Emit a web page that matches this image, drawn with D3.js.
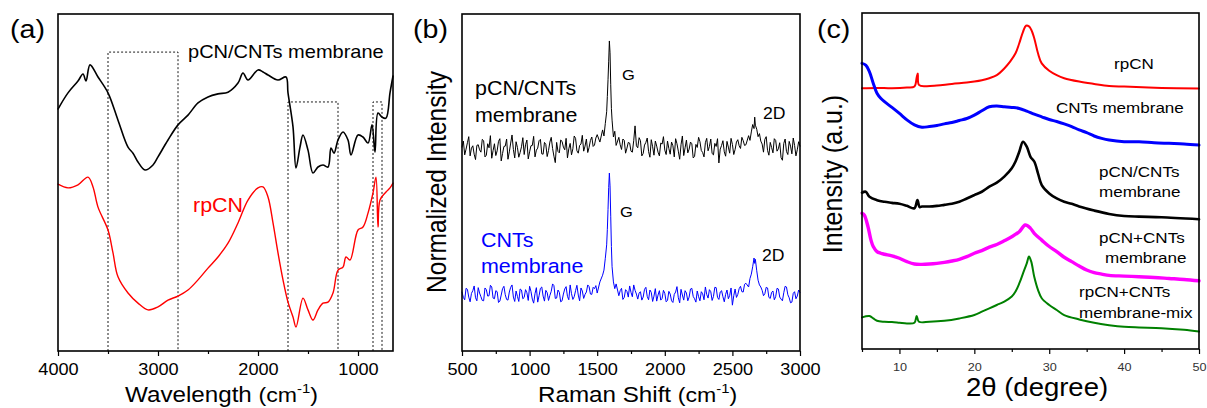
<!DOCTYPE html>
<html>
<head>
<meta charset="utf-8">
<script src="https://cdn.jsdelivr.net/npm/d3@7"></script>
<style>
  html, body { margin: 0; padding: 0; background: #fff; }
  svg { display: block; }
</style>
</head>
<body>
<svg id="fig" width="1207" height="408"></svg>
<script>
// ---------- (a) FTIR spectra ----------
const ftirCompositeWn = [4000,3900,3800,3750,3720,3680,3600,3500,3400,3300,3250,3200,3130,3050,3000,2900,2800,2700,2600,2500,2400,2300,2200,2150,2100,2000,1950,1900,1800,1720,1700,1650,1620,1580,1550,1500,1450,1400,1350,1300,1270,1240,1200,1150,1100,1070,1000,950,900,860,830,800,760,720,680,650];
const ftirCompositeT = [71.8,76.6,80.1,82.2,80.1,84.9,81.3,76.6,68.5,60.5,58.7,56.1,53.7,55.2,57.6,62.6,67.1,70.0,73.6,75.4,76.3,76.8,79.5,82.5,80.4,83.4,82.8,81.9,80.4,81.3,76.6,66.5,54.3,60.5,64.1,59.6,52.8,54.6,55.2,54.6,60.2,58.7,62.6,65.0,62.6,58.2,64.1,63.5,61.7,67.1,59.0,70.6,69.4,69.1,76.6,81.6];
const ftirRpcnWn = [4000,3900,3800,3700,3650,3600,3500,3450,3400,3300,3200,3100,3000,2900,2800,2700,2600,2500,2400,2300,2200,2100,2000,1950,1900,1850,1800,1750,1700,1650,1620,1550,1500,1450,1400,1350,1300,1250,1200,1150,1120,1080,1000,950,900,850,820,800,780,720,680,650];
const ftirRpcnT = [49.5,48.4,49.3,51.6,48.7,42.7,35.9,29.1,22.0,17.2,14.2,12.2,13.1,15.1,16.3,18.1,21.1,24.6,27.9,32.0,38.0,44.8,48.4,48.7,45.7,38.0,29.1,21.1,14.5,10.1,7.1,15.7,12.2,9.2,12.2,14.2,14.5,17.2,24.0,24.9,27.9,27.0,35.9,36.8,40.9,46.9,51.6,36.8,44.8,47.2,48.4,49.8];
// marked absorption regions: [from, to] wavenumber and height of the bracket
const bandFrom = [3500, 1700, 850];
const bandTo = [2800, 1200, 760];
const bandTop = [88.7, 73.9, 73.9];
const ftirMajorTicks = [4000, 3000, 2000, 1000];
const ftirMinorTicks = [3500, 2500, 1500];

// ---------- (b) Raman spectra ----------
const ramanShift = [
  500,510,520,530,540,550,560,570,580,590,600,610,620,630,640,650,660,670,680,690,
  700,710,720,730,740,750,760,770,780,790,800,810,820,830,840,850,860,870,880,890,
  900,910,920,930,940,950,960,970,980,990,1000,1010,1020,1030,1040,1050,1060,1070,1080,1090,
  1100,1110,1120,1130,1140,1150,1160,1170,1180,1190,1200,1210,1220,1230,1240,1250,1260,1270,1280,1290,
  1300,1310,1320,1330,1340,1350,1360,1370,1380,1390,1400,1410,1420,1430,1440,1450,1460,1470,1480,1490,
  1500,
  1520,1540,1550,1560,1570,1575,1580,1585,1590,1595,1600,1605,1610,1620,1630,1640,
  1660,1670,1680,1690,1700,1710,1720,1730,1740,1750,1760,1770,1780,1790,1800,1810,1820,1830,1840,1850,
  1860,1870,1880,1890,1900,1910,1920,1930,1940,1950,1960,1970,1980,1990,2000,2010,2020,2030,2040,2050,
  2060,2070,2080,2090,2100,2110,2120,2130,2140,2150,2160,2170,2180,2190,2200,2210,2220,2230,2240,2250,
  2260,2270,2280,2290,2300,2310,2320,2330,2340,2350,2360,2370,2380,2390,2400,2410,2420,2430,2440,2450,
  2460,2470,2480,2490,2500,2510,2520,2530,2540,2550,2560,2570,2580,2590,2600,
  2620,2630,2640,2650,2660,2665,2670,2680,2690,2700,
  2710,2720,2730,2740,2750,2760,2770,2780,2790,2800,2810,2820,2830,2840,2850,
  2860,2870,2880,2890,2900,2910,2920,2930,2940,2950,2960,2970,2980,2990,3000
];
const ramanComposite = [
  60.5,62.3,58.2,59.9,61.8,63.6,57.9,60.2,60.9,58.4,56.8,61.0,61.2,59.7,59.0,62.8,62.4,57.6,58.1,61.5,
  60.3,63.9,57.2,59.5,61.5,58.0,59.4,62.2,63.0,56.4,58.6,60.7,60.8,62.9,56.9,59.1,61.7,64.1,59.8,57.3,
  62.1,60.4,57.5,58.9,60.6,63.3,58.3,61.2,62.6,57.0,59.1,60.9,61.0,63.7,57.6,59.6,60.2,62.4,62.8,58.5,
  58.4,61.9,61.3,57.7,59.5,62.0,63.4,60.1,57.8,55.9,61.9,59.2,58.8,62.6,62.2,60.5,59.7,63.1,57.3,60.0,
  61.6,58.2,60.0,63.8,63.1,59.4,58.7,61.0,61.4,64.0,59.3,60.8,62.9,58.9,60.4,62.5,63.5,60.7,61.1,63.2,
  64.2,
  62.0,65.6,63.8,67.5,71.0,75.5,80.5,86.0,92.0,88.5,79.0,72.0,68.5,63.5,65.2,61.0,
  63.4,61.2,59.8,62.9,62.5,58.7,60.2,61.9,61.7,59.3,59.0,62.4,66.8,60.9,60.3,63.3,62.4,57.9,58.6,61.1,
  61.9,63.2,59.2,57.5,62.7,60.6,58.1,62.3,60.8,59.0,57.9,61.7,61.4,63.6,59.6,58.3,62.3,60.1,58.4,62.0,
  60.9,57.6,63.0,61.5,59.3,56.9,61.2,63.8,58.0,60.3,62.6,58.8,59.9,62.0,61.5,57.3,57.7,61.3,60.4,63.4,
  62.1,59.5,58.9,57.6,61.8,63.1,59.4,60.7,62.9,58.6,58.2,61.6,60.7,63.0,55.8,59.9,61.0,62.4,59.1,57.8,
  62.2,60.5,58.7,63.1,61.3,58.3,59.8,62.0,62.7,60.9,60.1,63.4,62.4,61.0,61.2,
  63.9,62.5,65.0,67.2,66.0,69.4,67.0,65.8,63.6,64.5,
  62.3,61.4,59.0,62.8,63.6,59.5,58.1,61.9,60.4,58.8,63.0,62.5,59.3,60.0,61.8,
  57.4,56.6,61.6,62.9,59.2,58.3,62.2,60.8,58.5,63.2,61.0,57.9,59.7,62.1,60.8
];
const ramanCNTs = [
  17.5,15.9,15.2,18.6,18.3,16.0,14.6,17.1,17.9,19.3,15.8,14.9,18.8,17.2,16.1,15.0,14.9,18.7,18.2,16.3,
  16.4,19.5,19.0,15.7,15.5,17.9,17.6,14.4,14.8,16.6,18.5,19.2,16.7,15.3,15.1,17.5,18.9,19.6,16.0,14.7,
  17.8,16.2,14.7,18.4,18.1,15.5,15.9,18.2,17.3,15.0,19.2,17.7,15.4,14.2,17.0,18.8,14.5,16.4,18.6,19.0,
  16.3,14.8,18.0,17.3,15.0,16.5,17.7,19.9,19.4,15.6,15.7,18.1,17.4,14.6,14.9,16.9,18.4,19.1,16.2,15.2,
  19.6,17.0,15.3,16.1,17.9,19.5,16.6,14.9,18.7,17.8,15.6,16.8,17.5,19.6,19.1,16.9,16.8,18.9,18.5,19.4,
  17.2,
  20.5,22.5,24.0,27.5,31.5,36.0,42.0,48.5,52.8,49.0,40.0,31.0,25.0,20.5,18.5,19.9,
  16.4,17.9,18.6,15.3,15.9,18.2,17.7,16.0,19.3,17.4,16.1,19.6,18.0,16.9,15.4,17.2,17.6,15.1,16.0,18.3,
  18.9,16.2,15.2,18.1,17.4,14.7,16.3,18.5,14.8,16.6,17.9,15.1,15.6,18.0,17.1,14.6,15.0,17.7,16.9,14.9,
  14.4,16.8,17.5,19.1,15.8,14.3,18.3,16.6,15.1,17.9,17.2,14.9,16.0,18.4,18.6,16.2,15.5,14.5,17.8,16.1,
  14.9,17.6,17.0,15.2,19.0,16.8,15.7,18.2,17.6,15.0,16.2,18.9,18.8,15.9,15.3,17.5,17.9,16.1,14.6,16.8,
  18.1,15.5,16.5,18.7,13.6,16.4,18.4,15.9,16.8,18.5,19.2,17.6,17.5,19.8,20.1,
  19.0,21.5,22.8,25.0,27.6,26.0,27.2,23.8,21.0,19.6,
  19.0,18.0,16.4,17.0,18.9,18.7,15.9,15.6,17.4,17.8,15.2,16.1,18.6,18.4,16.0,
  15.4,14.9,17.3,19.2,19.0,16.7,15.8,14.3,14.5,17.1,17.6,15.5,16.3,18.1,17.4
];
const ramanMajorTicks = [500, 1000, 1500, 2000, 2500, 3000];
const ramanMinorTicks = [750, 1250, 1750, 2250, 2750];

// ---------- (c) XRD patterns ----------
const xrdRpcnAngle = [5,7,9,11,12.0,12.3,12.45,12.6,13.5,15,17,19,20,21,22,23,24,24.8,25.5,26,26.5,26.9,27.3,27.6,28,28.5,29,30,31,32,34,36,38,40,45,50];
const xrdRpcn = [77.6,77.7,77.6,77.8,78.1,80.8,82.0,78.6,78.2,78.4,78.9,79.3,79.6,80.0,80.6,81.5,83.5,85.6,88.0,91.0,94.4,96.2,96.0,95.0,92.5,88.0,85.0,82.8,81.5,80.6,79.6,78.9,78.3,78.1,77.7,77.5];
const xrdCntsAngle = [5,5.5,6,6.5,7,7.5,8,9,10,11,12,13,14,15,16,17,18,19,20,21,22,23,24,25,26,27,28,29,30,31,32,33,34,35,36,37,38,40,42,44,46,48,50];
const xrdCnts = [85.0,84.5,82.5,79.1,76.1,74.6,73.6,71.9,70.1,68.2,66.7,66.0,66.2,66.5,67.0,67.4,68.0,68.6,69.6,70.9,72.1,72.3,72.1,71.9,71.6,70.8,69.9,69.1,68.3,67.7,67.0,66.2,65.2,64.4,63.4,62.7,62.2,61.7,61.7,61.4,61.2,61.0,60.7];
const xrdCompositeAngle = [5,5.5,6,7,8,9,10,11,12,12.4,12.7,13,14,15,16,17,18,19,20,21,22,23,24,25,25.5,26,26.5,27,27.5,28,28.5,29,30,31,32,33,34,36,38,40,42,45,50];
const xrdComposite = [46.5,46.8,45.3,44.3,43.8,43.5,43.2,42.6,41.9,44.3,42.2,42.4,42.4,42.6,42.9,43.2,43.8,44.8,45.8,46.8,48.3,49.5,51.3,53.8,55.8,58.7,61.7,60.2,57.2,55.8,52.3,48.8,46.3,44.8,43.8,43.2,42.4,41.2,40.2,39.6,39.4,39.2,38.6];
const xrdMixAngle = [5,5.3,5.8,6.2,6.5,7,7.5,8,9,10,11,12,13,14,15,16,17,18,19,20,21,22,23,24,25,26,26.8,27.5,28,29,30,31,32,33,34,35,36,37,38,40,42,44,46,48,50];
const xrdMix = [40.4,39.9,36.4,32.4,30.5,29.0,28.5,28.2,27.7,27.0,26.0,25.3,25.2,25.3,25.5,25.8,26.2,26.7,27.5,28.5,29.3,30.3,31.1,32.2,33.4,34.9,36.9,35.9,34.4,32.4,30.5,29.0,27.3,26.0,24.7,23.5,22.7,22.3,21.9,21.7,21.5,21.3,21.0,20.7,20.3];
const xrdRpcnMixAngle = [5,6,6.5,7,8,9,10,11,12,12.3,12.6,14,16,18,20,21,22,23,24,25,25.5,26,26.5,27,27.3,27.6,28,28.5,29,30,31,32,34,36,38,40,42,45,48,50];
const xrdRpcnMix = [9.4,9.8,9.1,8.4,8.1,8.0,7.8,7.6,7.8,9.8,8.1,8.1,8.4,9.1,10.1,11.1,12.1,13.1,14.1,15.6,17.1,19.5,22.5,25.5,27.5,26.0,21.5,17.6,15.1,13.1,11.6,10.1,8.8,7.8,7.1,6.6,6.4,6.2,5.7,5.2];
const xrdMajorTicks = [10, 20, 30, 40, 50];
const xrdMinorTicks = [5, 15, 25, 35, 45];

// ---------- drawing ----------
const FONT = "Arial, 'Liberation Sans', sans-serif";
const SX = 1.1; // glyphs in this figure are a little wide
const svg = d3.select("#fig").attr("font-family", FONT);

function txt(g, x, y, parts, size, color, anchor) {
  const t = g.append("text")
    .attr("transform", `translate(${x},${y}) scale(${SX},1)`)
    .attr("font-size", size)
    .attr("fill", color || "#000")
    .attr("text-anchor", anchor || "start");
  if (typeof parts === "string") t.text(parts);
  else parts.forEach(p => {
    const s = t.append("tspan").text(p.t);
    if (p.size) s.attr("font-size", p.size);
    if (p.dy) s.attr("dy", p.dy);
  });
  return t;
}

function yTitle(g, x, y, str, size) {
  g.append("text")
    .attr("transform", `translate(${x},${y}) scale(1.12,1) rotate(-90)`)
    .attr("font-size", size)
    .attr("text-anchor", "middle")
    .attr("fill", "#000")
    .text(str);
}

function bottomAxis(g, x, yPos, major, minor, opt) {
  const ax = g.append("g").attr("transform", `translate(0,${yPos})`)
    .call(d3.axisBottom(x).tickValues(major).tickSize(opt.major).tickPadding(opt.pad).tickFormat(d3.format("d")));
  ax.select(".domain").remove();
  ax.selectAll(".tick line").attr("stroke", "#000").attr("stroke-width", 1.2);
  ax.selectAll(".tick text")
    .attr("font-size", opt.font)
    .attr("font-family", FONT)
    .attr("fill", opt.color || "#000")
    .attr("transform", `scale(${SX},1)`);
  const mn = g.append("g").attr("transform", `translate(0,${yPos})`)
    .call(d3.axisBottom(x).tickValues(minor).tickSize(opt.minor).tickFormat(""));
  mn.select(".domain").remove();
  mn.selectAll(".tick line").attr("stroke", "#000").attr("stroke-width", 1.2);
}

function frame(g, x, y) {
  const [x0, x1] = x.range(), [y0, y1] = y.range();
  g.append("rect")
    .attr("x", Math.min(x0, x1)).attr("y", Math.min(y0, y1))
    .attr("width", Math.abs(x1 - x0)).attr("height", Math.abs(y1 - y0))
    .attr("fill", "none").attr("stroke", "#000").attr("stroke-width", 1.6);
}

function spectrum(g, xs, ys, x, y, color, width, curve) {
  const pts = xs.map((v, i) => [v, ys[i]]);
  g.append("path").datum(pts)
    .attr("fill", "none").attr("stroke", color).attr("stroke-width", width)
    .attr("stroke-linejoin", "round").attr("stroke-linecap", "round")
    .attr("d", d3.line().x(d => x(d[0])).y(d => y(d[1])).curve(curve || d3.curveLinear));
}

// ----- panel (a) -----
{
  const g = svg.append("g");
  const x = d3.scaleLinear().domain([4000, 650]).range([58, 393]);
  const y = d3.scaleLinear().domain([0, 100]).range([351, 14]);
  const smooth = d3.curveCatmullRom.alpha(0.5);

  bandFrom.forEach((b, i) => {
    g.append("path")
      .attr("d", `M${x(b)},${y(0)}V${y(bandTop[i])}H${x(bandTo[i])}V${y(0)}`)
      .attr("fill", "none").attr("stroke", "#000").attr("stroke-width", 0.9)
      .attr("stroke-dasharray", "2,2");
  });
  spectrum(g, ftirCompositeWn, ftirCompositeT, x, y, "#000", 1.6, smooth);
  spectrum(g, ftirRpcnWn, ftirRpcnT, x, y, "#ff0000", 1.4, smooth);
  frame(g, x, y);
  bottomAxis(g, x, 351, ftirMajorTicks, ftirMinorTicks, {major: 5, minor: 3, pad: 7, font: 16.5});

  txt(g, 10, 38, "(a)", 26);
  txt(g, 188, 58, "pCN/CNTs membrane", 18.2);
  txt(g, 193, 212, "rpCN", 19.5, "#ff0000");
  txt(g, 125, 402, [{t: "Wavelength "}, {t: "(cm", size: 21}, {t: "-1", size: 13.5, dy: -9}, {t: ")", size: 21, dy: 9}], 22);
}

// ----- panel (b) -----
{
  const g = svg.append("g");
  const x = d3.scaleLinear().domain([500, 3000]).range([462, 800]);
  const y = d3.scaleLinear().domain([0, 100]).range([351, 14]);

  spectrum(g, ramanShift, ramanComposite, x, y, "#000", 1);
  spectrum(g, ramanShift, ramanCNTs, x, y, "#0000ff", 1);
  frame(g, x, y);
  bottomAxis(g, x, 351, ramanMajorTicks, ramanMinorTicks, {major: 5, minor: 3, pad: 7, font: 16.5});

  txt(g, 413, 38, "(b)", 26);
  txt(g, 475, 95, "pCN/CNTs", 19.5);
  txt(g, 475, 122, "membrane", 19.5);
  txt(g, 481, 247, "CNTs", 19.5, "#0000ff");
  txt(g, 481, 273, "membrane", 19.5, "#0000ff");
  txt(g, 622, 80, "G", 15);
  txt(g, 620, 217, "G", 15);
  txt(g, 763, 119, "2D", 16);
  txt(g, 762, 261, "2D", 16);
  txt(g, 538, 402, [{t: "Raman Shift "}, {t: "(cm", size: 21}, {t: "-1", size: 13.5, dy: -9}, {t: ")", size: 21, dy: 9}], 22);
  yTitle(g, 446, 182, "Normalized Intensity", 24.5);
}

// ----- panel (c) -----
{
  const g = svg.append("g");
  const x = d3.scaleLinear().domain([5, 50]).range([862, 1199]);
  const y = d3.scaleLinear().domain([0, 100]).range([349, 13]);
  const smooth = d3.curveCatmullRom.alpha(0.5);

  spectrum(g, xrdRpcnAngle, xrdRpcn, x, y, "#ff0000", 2, smooth);
  spectrum(g, xrdCntsAngle, xrdCnts, x, y, "#0000ff", 3, smooth);
  spectrum(g, xrdCompositeAngle, xrdComposite, x, y, "#000", 2.6, smooth);
  spectrum(g, xrdMixAngle, xrdMix, x, y, "#ff00ff", 3.4, smooth);
  spectrum(g, xrdRpcnMixAngle, xrdRpcnMix, x, y, "#008000", 2, smooth);
  frame(g, x, y);
  bottomAxis(g, x, 349, xrdMajorTicks, xrdMinorTicks, {major: 5, minor: 3, pad: 9, font: 11.5, color: "#333"});

  txt(g, 817, 38, "(c)", 26);
  txt(g, 1114, 69, "rpCN", 15.5);
  txt(g, 1056, 113, "CNTs membrane", 15.5);
  txt(g, 1099, 177, "pCN/CNTs", 15.5);
  txt(g, 1099, 197, "membrane", 15.5);
  txt(g, 1099, 243, "pCN+CNTs", 15.5);
  txt(g, 1105, 263, "membrane", 15.5);
  txt(g, 1079, 297, "rpCN+CNTs", 15.5);
  txt(g, 1079, 318, "membrane-mix", 15.5);
  txt(g, 966, 396, "2θ (degree)", 25);
  yTitle(g, 842, 174, "Intensity (a.u.)", 25);
}
</script>
</body>
</html>
